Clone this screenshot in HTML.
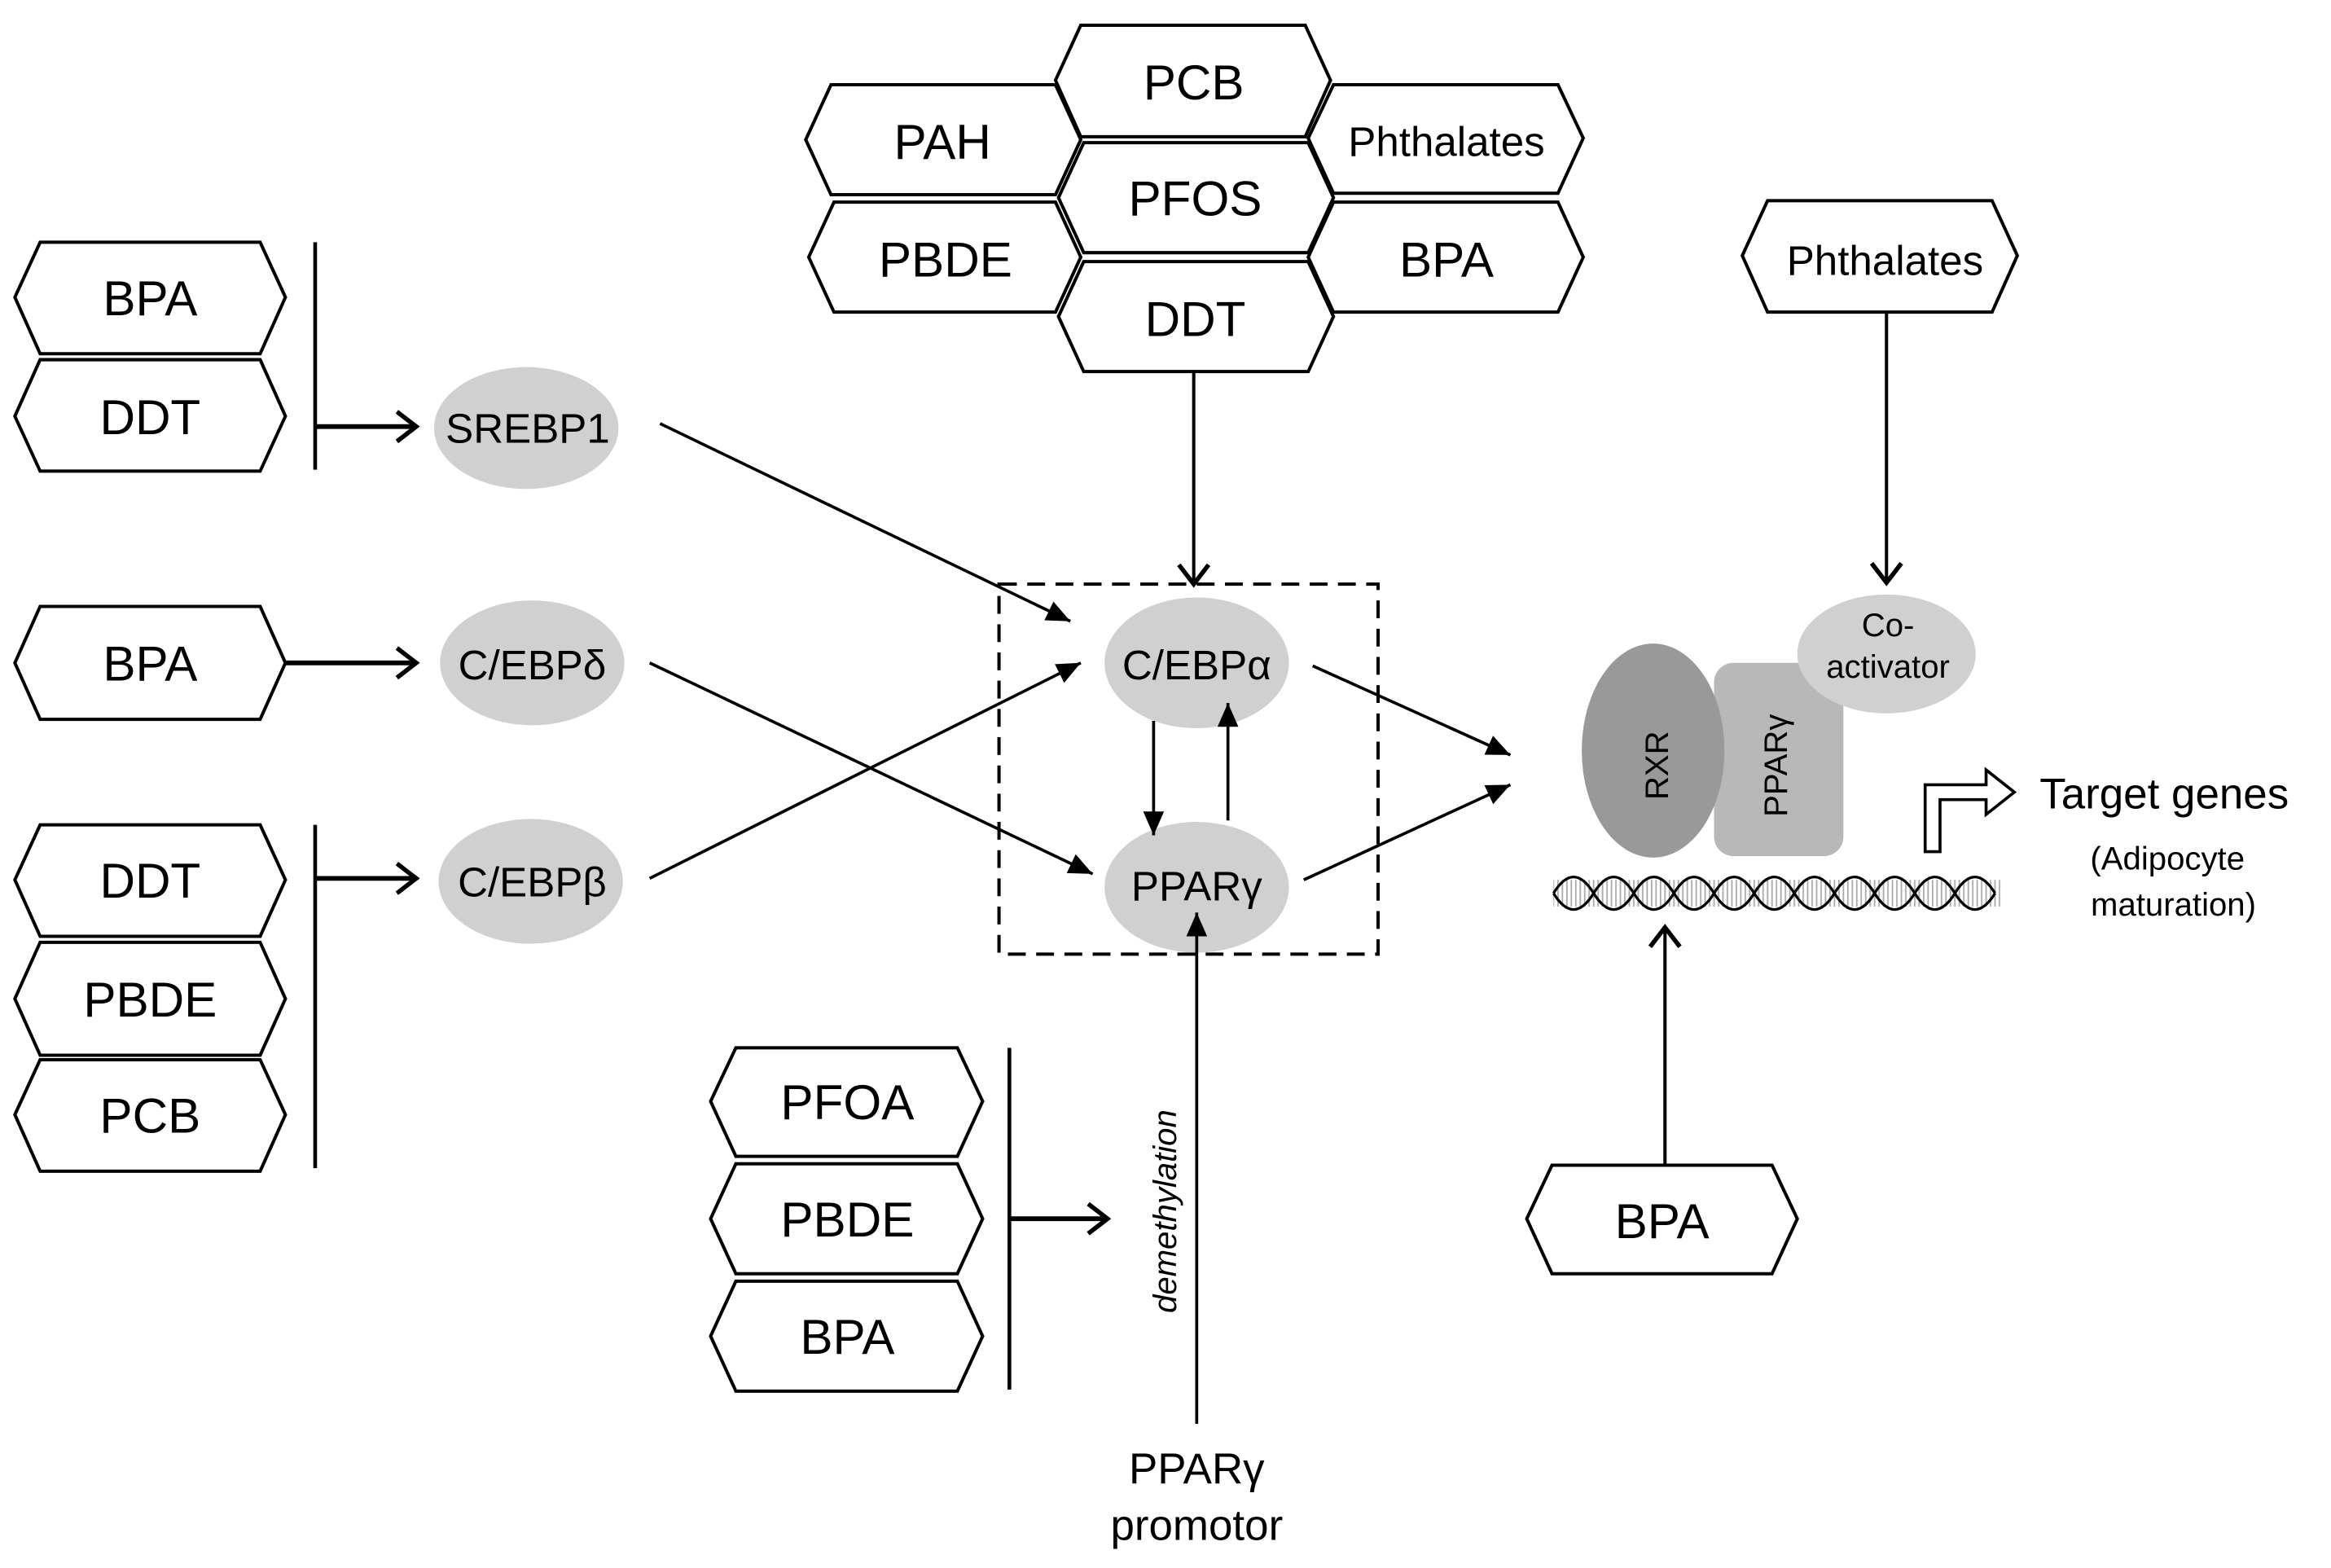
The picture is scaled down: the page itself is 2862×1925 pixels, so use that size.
<!DOCTYPE html>
<html><head><meta charset="utf-8"><style>
html,body{margin:0;padding:0;background:#fff;}
svg{display:block;}
text{font-family:"Liberation Sans Narrow","Liberation Sans",sans-serif;fill:#000;}
</style></head><body>
<svg width="2862" height="1925" viewBox="0 0 1568 1055" preserveAspectRatio="none" xmlns="http://www.w3.org/2000/svg">
<defs>
<marker id="tri" markerUnits="userSpaceOnUse" markerWidth="20" markerHeight="20" viewBox="0 0 20 20" refX="18" refY="10" orient="auto"><path d="M2,3 L18,10 L2,17 Z" fill="#000"/></marker>
<marker id="chev" markerUnits="userSpaceOnUse" markerWidth="24" markerHeight="24" viewBox="0 0 24 24" refX="21" refY="12" orient="auto"><path d="M8,2 L21,12 L8,22" fill="none" stroke="#000" stroke-width="3"/></marker>
<pattern id="hatch" width="3" height="20" patternUnits="userSpaceOnUse"><line x1="1" y1="0" x2="1" y2="20" stroke="#aaa" stroke-width="1"/></pattern>
</defs>
<g fill="#fff" stroke="#000" stroke-width="2.2">
<polygon points="10,200 27,163 175,163 192,200 175,238 27,238"/>
<polygon points="10,280 27,242 175,242 192,280 175,317 27,317"/>
<polygon points="10,446 27,408 175,408 192,446 175,484 27,484"/>
<polygon points="10,592 27,555 175,555 192,592 175,630 27,630"/>
<polygon points="10,672 27,634 175,634 192,672 175,710 27,710"/>
<polygon points="10,750 27,713 175,713 192,750 175,788 27,788"/>
<polygon points="710,54 727,17 878,17 895,54 878,92 727,92"/>
<polygon points="542,94 559,57 710,57 727,94 710,131 559,131"/>
<polygon points="880,93 897,57 1048,57 1065,93 1048,130 897,130"/>
<polygon points="712,133 729,96 880,96 897,133 880,170 729,170"/>
<polygon points="544,173 561,136 710,136 727,173 710,210 561,210"/>
<polygon points="880,173 897,136 1048,136 1065,173 1048,210 897,210"/>
<polygon points="712,213 729,176 880,176 897,213 880,250 729,250"/>
<polygon points="1172,172 1189,135 1340,135 1357,172 1340,210 1189,210"/>
<polygon points="478,741 495,705 644,705 661,741 644,778 495,778"/>
<polygon points="478,820 495,783 644,783 661,820 644,857 495,857"/>
<polygon points="478,899 495,862 644,862 661,899 644,936 495,936"/>
<polygon points="1027,820 1044,784 1192,784 1209,820 1192,857 1044,857"/>
</g>
<g font-size="33" text-anchor="middle">
<text x="101" y="212">BPA</text>
<text x="101" y="292">DDT</text>
<text x="101" y="458">BPA</text>
<text x="101" y="604">DDT</text>
<text x="101" y="684">PBDE</text>
<text x="101" y="762">PCB</text>
<text x="803" y="67">PCB</text>
<text x="634" y="107">PAH</text>
<text x="804" y="145">PFOS</text>
<text x="636" y="186">PBDE</text>
<text x="973" y="186">BPA</text>
<text x="804" y="226">DDT</text>
<text x="570" y="753">PFOA</text>
<text x="570" y="832">PBDE</text>
<text x="570" y="911">BPA</text>
<text x="1118" y="833">BPA</text>
</g>
<g font-size="28" text-anchor="middle">
<text x="973" y="105">Phthalates</text>
<text x="1268" y="185">Phthalates</text>
</g>
<g stroke="#000" stroke-width="2.5">
<line x1="212" y1="163" x2="212" y2="316"/>
<line x1="212" y1="555" x2="212" y2="786"/>
<line x1="679" y1="705" x2="679" y2="935"/>
</g>
<g stroke="#000" stroke-width="3.2" fill="none" marker-end="url(#chev)">
<line x1="212" y1="287" x2="280" y2="287"/>
<line x1="192" y1="446" x2="280" y2="446"/>
<line x1="212" y1="591" x2="280" y2="591"/>
<line x1="679" y1="820" x2="745" y2="820"/>
</g>
<g stroke="#000" stroke-width="2.2" fill="none" marker-end="url(#chev)">
<line x1="803" y1="250" x2="803" y2="393"/>
<line x1="1269" y1="210" x2="1269" y2="392"/>
<line x1="1120" y1="784" x2="1120" y2="624"/>
</g>
<rect x="672" y="393" width="255" height="249" fill="none" stroke="#000" stroke-width="2.2" stroke-dasharray="12,7"/>
<!-- receptor complex -->
<rect x="1153" y="446" width="87" height="130" rx="13" fill="#b8b8b8"/>
<ellipse cx="1112" cy="505" rx="48" ry="72" fill="#999"/>
<text x="1122" y="515" font-size="22" text-anchor="middle" fill="#333" transform="rotate(-90 1122 515)" style="font-family:'Liberation Sans',sans-serif">RXR</text>
<text x="1202" y="515" font-size="22" text-anchor="middle" fill="#333" transform="rotate(-90 1202 515)" style="font-family:'Liberation Sans',sans-serif">PPARγ</text>
<g fill="#d0d0d0">
<ellipse cx="354" cy="288" rx="62" ry="41"/>
<ellipse cx="358" cy="446" rx="62" ry="42"/>
<ellipse cx="357" cy="593" rx="62" ry="42"/>
<ellipse cx="805" cy="446" rx="62" ry="44"/>
<ellipse cx="805" cy="597" rx="62" ry="44"/>
<ellipse cx="1269" cy="440" rx="60" ry="40"/>
</g>
<g font-size="28" text-anchor="middle" fill="#222">
<text x="355" y="298">SREBP1</text>
<text x="358" y="457">C/EBPδ</text>
<text x="358" y="603">C/EBPβ</text>
<text x="805" y="457">C/EBPα</text>
<text x="805" y="606">PPARγ</text>
</g>
<g font-size="22" text-anchor="middle">
<text x="1270" y="428">Co-</text>
<text x="1270" y="456">activator</text>
</g>
<g stroke="#000" stroke-width="2" fill="none" marker-end="url(#tri)">
<line x1="444" y1="285" x2="720" y2="418"/>
<line x1="437" y1="446" x2="735" y2="588"/>
<line x1="437" y1="591" x2="727" y2="446"/>
<line x1="776" y1="485" x2="776" y2="562"/>
<line x1="826" y1="552" x2="826" y2="473"/>
<line x1="883" y1="448" x2="1016" y2="508"/>
<line x1="877" y1="592" x2="1016" y2="528"/>
<line x1="805" y1="958" x2="805" y2="614"/>
</g>
<text x="791" y="815" font-size="22" font-style="italic" text-anchor="middle" transform="rotate(-90 791 815)" style="font-family:'Liberation Sans',sans-serif">demethylation</text>
<g font-size="29" text-anchor="middle">
<text x="805" y="998">PPARγ</text>
<text x="805" y="1036">promotor</text>
</g>
<!-- DNA -->
<rect x="1045" y="592" width="302" height="18" fill="url(#hatch)"/>
<path d="M1045,601 c9,-14.6 18,-14.6 27,0 c9,14.6 18,14.6 27,0 c9,-14.6 18,-14.6 27,0 c9,14.6 18,14.6 27,0 c9,-14.6 18,-14.6 27,0 c9,14.6 18,14.6 27,0 c9,-14.6 18,-14.6 27,0 c9,14.6 18,14.6 27,0 c9,-14.6 18,-14.6 27,0 c9,14.6 18,14.6 27,0 c9,-14.6 18,-14.6 27,0" fill="none" stroke="#000" stroke-width="1.8"/>
<path d="M1045,601 c9,14.6 18,14.6 27,0 c9,-14.6 18,-14.6 27,0 c9,14.6 18,14.6 27,0 c9,-14.6 18,-14.6 27,0 c9,14.6 18,14.6 27,0 c9,-14.6 18,-14.6 27,0 c9,14.6 18,14.6 27,0 c9,-14.6 18,-14.6 27,0 c9,14.6 18,14.6 27,0 c9,-14.6 18,-14.6 27,0 c9,14.6 18,14.6 27,0" fill="none" stroke="#000" stroke-width="1.8"/>
<path d="M1295,573 L1295,528 L1336,528 L1336,518 L1355,533 L1336,548 L1336,538 L1305,538 L1305,573 Z" fill="#fff" stroke="#000" stroke-width="2"/>
<text x="1372" y="544" font-size="29">Target genes</text>
<g font-size="22" text-anchor="middle">
<text x="1458" y="585">(Adipocyte</text>
<text x="1462" y="616">maturation)</text>
</g>
</svg>
</body></html>
